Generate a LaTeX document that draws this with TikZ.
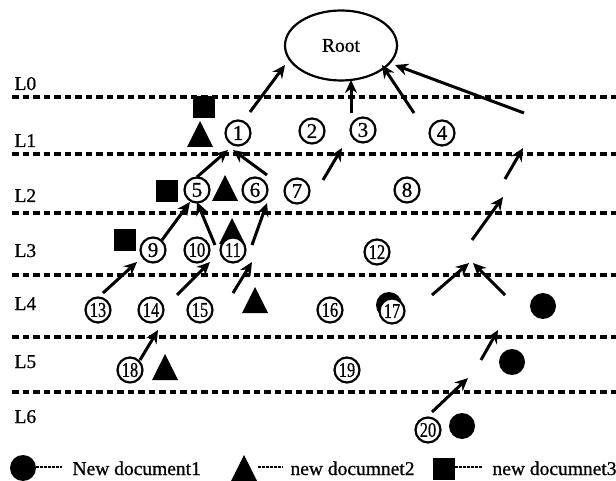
\documentclass[tikz,border=0pt]{standalone}
\usepackage{graphicx}
\usepackage{fontspec}
\setmainfont{Liberation Serif}
\newfontfamily\heavy[FakeBold=0.8]{Liberation Serif}
\usetikzlibrary{arrows.meta,shapes.geometric}
\newcommand\nn[1]{\scalebox{0.78}[1]{#1}}
\begin{document}
\begin{tikzpicture}[x=1pt,y=-1pt,
  lvl/.style={line width=3.5pt, dash pattern=on 6.5pt off 4pt},
  num/.style={circle, draw, line width=2.2pt, minimum size=25pt, inner sep=0pt, fill=white, font=\heavy\fontsize{21}{21}\selectfont},
  arr/.style={line width=3pt, -{Stealth[length=13pt,width=12pt]}},
  sq/.style={fill=black, minimum size=22pt, inner sep=0pt},
  dot/.style={circle, fill=black, minimum size=26pt, inner sep=0pt},
  lab/.style={anchor=base west, font=\heavy\fontsize{19.5}{19.5}\selectfont},
  legline/.style={line width=1.2pt, dash pattern=on 2.5pt off 1.5pt},
  tri/.pic={\fill (-13,13) -- (13,13) -- (0,-13) -- cycle;}
]
\useasboundingbox (0,0) rectangle (616,481);
% level lines
\foreach \yy in {97,154,213,275,337,392}
  \draw[lvl] (12,\yy) -- (616,\yy);
% level labels
\node[lab] (L0) at (11,90) {L0};
\node[lab] (L1) at (11,147) {L1};
\node[lab] (L2) at (11,202) {L2};
\node[lab] (L3) at (11,257) {L3};
\node[lab] (L4) at (11,310) {L4};
\node[lab] (L5) at (11,368) {L5};
\node[lab] (L6) at (11,423) {L6};
% root
\node[draw, ellipse, line width=2.2pt, minimum width=112pt, minimum height=70pt, inner sep=0pt,
      font=\heavy\fontsize{19.5}{19.5}\selectfont] (root) at (341,45.5) {Root};
% black marks
\node[sq] (s1) at (204,107) {};
\pic at (200,134) {tri};
\node[sq] (s2) at (167,191) {};
\pic at (225,188) {tri};
\pic at (232,231) {tri};
\node[sq] (s3) at (125,240) {};
\pic at (255,300) {tri};
\pic at (165,367) {tri};
\node[dot] (d1) at (389,305) {};
\node[dot] (d2) at (543,306) {};
\node[dot] (d3) at (512,362) {};
\node[dot] (d4) at (462,426) {};
% numbered nodes
\node[num] (n1) at (238,133) {1};
\node[num] (n2) at (312,131) {2};
\node[num] (n3) at (363,130) {3};
\node[num] (n4) at (442,133) {4};
\node[num] (n5) at (197,190) {5};
\node[num] (n6) at (255,190) {6};
\node[num] (n7) at (297,191) {7};
\node[num] (n8) at (407,190) {8};
\node[num] (n9) at (153,250) {9};
\node[num] (n10) at (197,250) {\nn{10}};
\node[num] (n11) at (233,250) {\nn{11}};
\node[num] (n12) at (377,252) {\nn{12}};
\node[num] (n13) at (98,310) {\nn{13}};
\node[num] (n14) at (151,310) {\nn{14}};
\node[num] (n15) at (200,310) {\nn{15}};
\node[num] (n16) at (330,310) {\nn{16}};
\node[num] (n17) at (392,311) {\nn{17}};
\node[num] (n18) at (130,370) {\nn{18}};
\node[num] (n19) at (347,370) {\nn{19}};
\node[num] (n20) at (428,430) {\nn{20}};
% arrow end points
\coordinate (a1t) at (250,112); \coordinate (a1h) at (285,65);
\coordinate (a2t) at (351,113); \coordinate (a2h) at (351,80);
\coordinate (a3t) at (414,113); \coordinate (a3h) at (382,65);
\coordinate (a4t) at (524,113); \coordinate (a4h) at (395,65);
\coordinate (a5t) at (323,180); \coordinate (a5h) at (342,148);
\coordinate (a6t) at (505,179); \coordinate (a6h) at (523,148);
\coordinate (a7t) at (472,240); \coordinate (a7h) at (503,197);
\coordinate (a8t) at (197,177); \coordinate (a8h) at (228,150);
\coordinate (a9t) at (267,175); \coordinate (a9h) at (233,150);
\coordinate (a10t) at (162,240); \coordinate (a10h) at (190,202);
\coordinate (a11t) at (215,245); \coordinate (a11h) at (197,202);
\coordinate (a12t) at (252,245); \coordinate (a12h) at (267,203);
\coordinate (a13t) at (103,293); \coordinate (a13h) at (137,262);
\coordinate (a14t) at (177,295); \coordinate (a14h) at (210,262);
\coordinate (a15t) at (233,293); \coordinate (a15h) at (252,262);
\coordinate (a16t) at (140,360); \coordinate (a16h) at (158,330);
\coordinate (a17t) at (432,295); \coordinate (a17h) at (469,263);
\coordinate (a18t) at (505,295); \coordinate (a18h) at (473,263);
\coordinate (a19t) at (481,360); \coordinate (a19h) at (498,330);
\coordinate (a20t) at (432,412); \coordinate (a20h) at (468,378);
\foreach \i in {1,...,20}
  \draw[arr] (a\i t) -- (a\i h);
% legend
\node[dot] (ld) at (23,468) {};
\coordinate (ld1) at (36,467); \coordinate (ld2) at (62,467);
\draw[legline] (ld1) -- (ld2);
\node[lab] (lt1) at (69,475) {New document1};
\pic at (244,468) {tri};
\coordinate (lt2a) at (258,467); \coordinate (lt2b) at (283,467);
\draw[legline] (lt2a) -- (lt2b);
\node[lab] (lt2) at (287,475) {new documnet2};
\node[sq] (ls) at (443.5,468.5) {};
\coordinate (ls1) at (455,467); \coordinate (ls2) at (483,467);
\draw[legline] (ls1) -- (ls2);
\node[lab] (lt3) at (489,475) {new documnet3};
\end{tikzpicture}
\end{document}
